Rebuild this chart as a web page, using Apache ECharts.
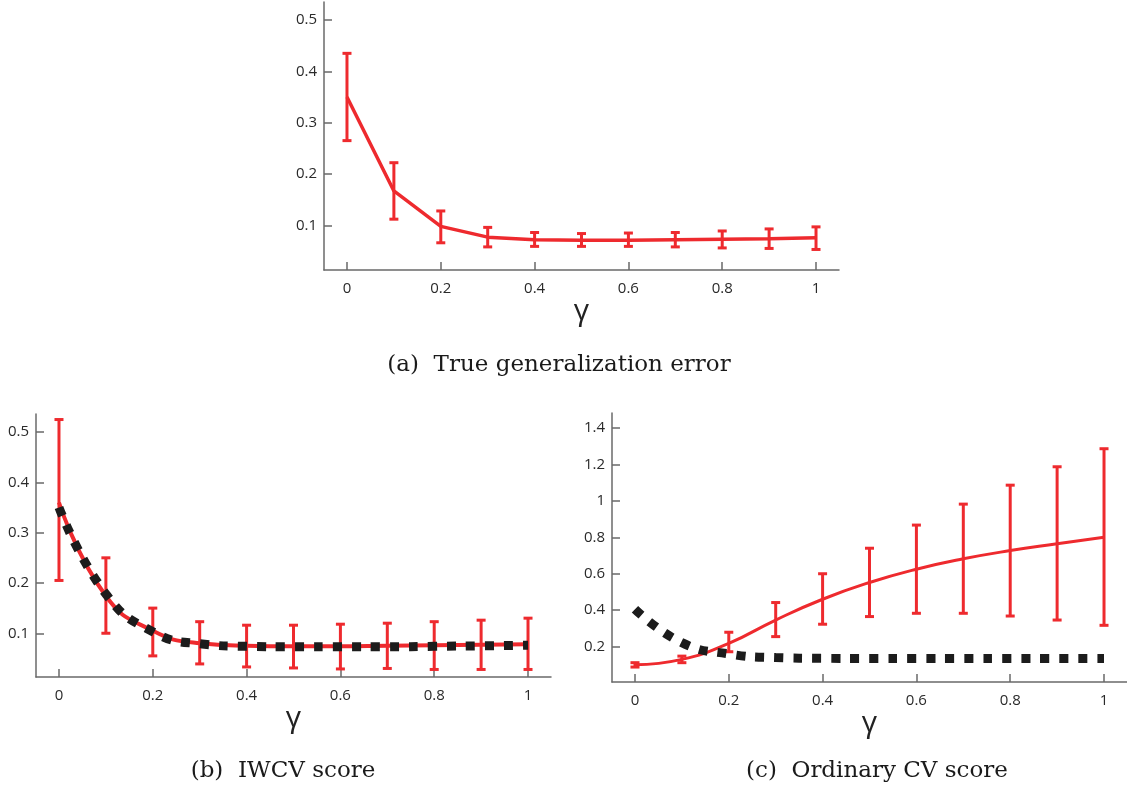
<!DOCTYPE html>
<html>
<head>
<meta charset="utf-8">
<script src="https://cdn.jsdelivr.net/npm/echarts@6/dist/echarts.min.js"></script>
<style>
  html, body { margin: 0; padding: 0; background: #fff; }
  #chart { width: 1127px; height: 792px; }
</style>
</head>
<body>
<div id="chart"></div>
<script>
// gamma values shared by all three panels
const gamma = [0, 0.1, 0.2, 0.3, 0.4, 0.5, 0.6, 0.7, 0.8, 0.9, 1];
const xTicks = [0, 0.2, 0.4, 0.6, 0.8, 1];

// (a) true generalization error
const aMean = [0.35, 0.167, 0.098, 0.077, 0.072, 0.071, 0.071, 0.072, 0.073, 0.074, 0.076];
const aLow  = [0.265, 0.112, 0.066, 0.058, 0.059, 0.059, 0.059, 0.058, 0.056, 0.055, 0.053];
const aHigh = [0.435, 0.222, 0.128, 0.096, 0.086, 0.084, 0.085, 0.086, 0.089, 0.093, 0.097];
const aTicks = [0.1, 0.2, 0.3, 0.4, 0.5];

// (b) IWCV score
const bMean  = [0.36, 0.174, 0.105, 0.08, 0.075, 0.074, 0.074, 0.075, 0.076, 0.077, 0.078];
const bLow   = [0.205, 0.10, 0.055, 0.039, 0.033, 0.031, 0.029, 0.03, 0.028, 0.028, 0.028];
const bHigh  = [0.525, 0.25, 0.15, 0.123, 0.116, 0.116, 0.118, 0.12, 0.123, 0.126, 0.13];
const bTrue  = [0.35, 0.178, 0.103, 0.079, 0.074, 0.073, 0.073, 0.073, 0.074, 0.075, 0.076];
const bTicks = [0.1, 0.2, 0.3, 0.4, 0.5];

// (c) ordinary CV score
const cMean  = [0.10, 0.13, 0.218, 0.346, 0.46, 0.552, 0.625, 0.682, 0.727, 0.764, 0.80];
const cLow   = [0.088, 0.112, 0.172, 0.255, 0.323, 0.365, 0.383, 0.383, 0.368, 0.346, 0.317];
const cHigh  = [0.112, 0.148, 0.279, 0.442, 0.60, 0.74, 0.867, 0.982, 1.086, 1.187, 1.286];
const cTrue  = [0.405, 0.222, 0.16, 0.14, 0.136, 0.135, 0.135, 0.135, 0.135, 0.135, 0.135];
const cTicks = [0.2, 0.4, 0.6, 0.8, 1, 1.2, 1.4];

const RED = '#ee2a2e';
const AXIS = '#6a6a6a';
const LABEL_FONT = { fontFamily: 'Open Sans', fontSize: 15, color: '#2a2a2a' };

const pairs = (ys) => gamma.map((g, i) => [g, ys[i]]);
const bars = (lo, hi) => gamma.map((g, i) => [g, lo[i], hi[i]]);

const xAxisFor = (idx) => ({
  type: 'value', gridIndex: idx, min: -0.049, max: 1.049,
  name: 'γ', nameLocation: 'middle', nameGap: 15,
  nameTextStyle: { fontFamily: 'Open Sans', fontSize: 30, color: '#222' },
  axisLine: { onZero: false, lineStyle: { color: AXIS, width: 1.5 } },
  axisTick: { inside: true, length: 8, customValues: xTicks, lineStyle: { color: AXIS, width: 1.5 } },
  axisLabel: Object.assign({ customValues: xTicks, margin: 11 }, LABEL_FONT),
  splitLine: { show: false }
});

const yAxisFor = (idx, min, max, ticks) => ({
  type: 'value', gridIndex: idx, min, max,
  axisLine: { show: true, onZero: false, lineStyle: { color: AXIS, width: 1.5 } },
  axisTick: { show: true, inside: true, length: 8, customValues: ticks, lineStyle: { color: AXIS, width: 1.5 } },
  axisLabel: Object.assign({ customValues: ticks, margin: 7 }, LABEL_FONT),
  splitLine: { show: false }
});

// vertical error bar with caps
const errorItem = (capHalf, width) => (params, api) => {
  const x = api.value(0);
  const lo = api.coord([x, api.value(1)]);
  const hi = api.coord([x, api.value(2)]);
  const style = { stroke: RED, lineWidth: width };
  return {
    type: 'group',
    children: [
      { type: 'line', shape: { x1: lo[0], y1: lo[1], x2: hi[0], y2: hi[1] }, style },
      { type: 'line', shape: { x1: lo[0] - capHalf, y1: lo[1], x2: lo[0] + capHalf, y2: lo[1] }, style },
      { type: 'line', shape: { x1: hi[0] - capHalf, y1: hi[1], x2: hi[0] + capHalf, y2: hi[1] }, style }
    ]
  };
};

const errSeries = (idx, lo, hi) => ({
  type: 'custom', xAxisIndex: idx, yAxisIndex: idx,
  renderItem: errorItem(4.5, 3),
  encode: { x: 0, y: [1, 2] },
  data: bars(lo, hi), z: 3, silent: true
});

const meanSeries = (idx, ys, smooth, width) => ({
  type: 'line', xAxisIndex: idx, yAxisIndex: idx, data: pairs(ys),
  smooth, showSymbol: false, lineStyle: { color: RED, width }, z: 2, silent: true
});

const trueSeries = (idx, ys) => ({
  type: 'line', xAxisIndex: idx, yAxisIndex: idx, data: pairs(ys),
  smooth: true, showSymbol: false,
  lineStyle: { color: '#1c1c1c', width: 9, type: [9, 10], cap: 'butt' }, z: 4, silent: true
});

const caption = (text, x, y) => ({
  type: 'text', x, y,
  style: { text, fontFamily: 'DejaVu Serif', fontSize: 23, fill: '#1a1a1a', align: 'center', verticalAlign: 'middle' }
});

const chart = echarts.init(document.getElementById('chart'), null, { renderer: 'canvas' });

chart.setOption({
  animation: false,
  grid: [
    { left: 324, top: 2, width: 515, height: 268 },
    { left: 36, top: 414, width: 515, height: 263 },
    { left: 612, top: 413, width: 515, height: 269 }
  ],
  xAxis: [xAxisFor(0), xAxisFor(1), xAxisFor(2)],
  yAxis: [
    yAxisFor(0, 0.013, 0.535, aTicks),
    yAxisFor(1, 0.013, 0.536, bTicks),
    yAxisFor(2, 0.006, 1.482, cTicks)
  ],
  graphic: [
    caption('(a)  True generalization error', 559, 365),
    caption('(b)  IWCV score', 283, 771),
    caption('(c)  Ordinary CV score', 877, 771)
  ],
  series: [
    meanSeries(0, aMean, false, 3.5),
    errSeries(0, aLow, aHigh),
    meanSeries(1, bMean, true, 4),
    errSeries(1, bLow, bHigh),
    trueSeries(1, bTrue),
    meanSeries(2, cMean, true, 3),
    errSeries(2, cLow, cHigh),
    trueSeries(2, cTrue)
  ]
});
</script>
</body>
</html>
